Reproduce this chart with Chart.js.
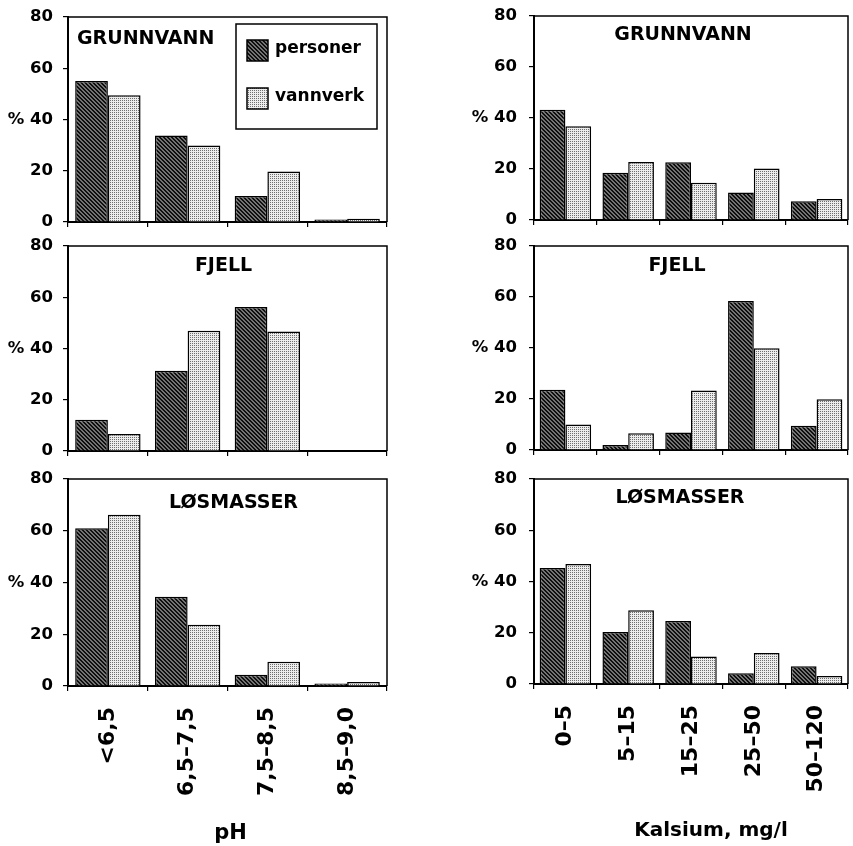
<!DOCTYPE html>
<html><head><meta charset="utf-8">
<script src="https://cdn.jsdelivr.net/npm/chart.js@4.4.0/dist/chart.umd.min.js"></script>
<style>
html,body{margin:0;padding:0;background:#fff;}
#wrap{position:relative;width:853px;height:846px;overflow:hidden;background:#fff;}
#wrap canvas{position:absolute;}
</style></head>
<body><div id="wrap"></div>
<script>
// ---------- DATA ----------
const phCategories = ['<6,5', '6,5–7,5', '7,5–8,5', '8,5–9,0'];
const caCategories = ['0–5', '5–15', '15–25', '25–50', '50–120'];
const seriesLabels = ['personer', 'vannverk'];
const panelTitles = ['GRUNNVANN', 'FJELL', 'LØSMASSER'];
const axisTitles = ['pH', 'Kalsium, mg/l'];
const yTickValues = [0, 20, 40, 60, 80];
const yUnitLabel = '%';

const phGrunnvannPersoner = [55.0, 33.8, 10.1, 1.0];
const phGrunnvannVannverk = [49.5, 29.9, 19.7, 1.3];
const phFjellPersoner     = [12.2, 31.3, 56.2, 0];
const phFjellVannverk     = [6.6, 46.9, 46.6, 0];
const phLosmasserPersoner = [61.0, 34.5, 4.3, 1.0];
const phLosmasserVannverk = [66.2, 23.7, 9.4, 1.5];

const caGrunnvannPersoner = [43.2, 18.5, 22.6, 10.8, 7.4];
const caGrunnvannVannverk = [36.8, 22.7, 14.6, 20.2, 8.2];
const caFjellPersoner     = [23.6, 2.0, 6.9, 58.4, 9.5];
const caFjellVannverk     = [10.0, 6.6, 23.3, 39.9, 19.9];
const caLosmasserPersoner = [45.3, 20.3, 24.6, 4.2, 6.9];
const caLosmasserVannverk = [46.8, 28.8, 10.7, 12.1, 3.1];

// ---------- STYLE ----------
const FONT = "'DejaVu Sans', 'Liberation Sans', sans-serif";
Chart.defaults.font.family = FONT;
Chart.defaults.font.weight = 'bold';
Chart.defaults.color = '#000';

function makePattern(dark) {
  const c = document.createElement('canvas');
  const n = dark ? 4 : 2;
  c.width = n; c.height = n;
  const x = c.getContext('2d');
  const img = x.createImageData(n, n);
  for (let j = 0; j < n; j++) for (let i = 0; i < n; i++) {
    let v;
    if (dark) v = (((i - j) % 4 + 4) % 4) < 2 ? 15 : 115;
    else v = (i === 0 && j === 0) ? 110 : 236;
    const k = (j * n + i) * 4;
    img.data[k] = img.data[k + 1] = img.data[k + 2] = v; img.data[k + 3] = 255;
  }
  x.putImageData(img, 0, 0);
  return x.createPattern(c, 'repeat');
}
const darkPat = makePattern(true);
const lightPat = makePattern(false);

// ---------- PLUGIN: box, panel title, legend, axis title ----------
const decor = {
  id: 'decor',
  afterDraw(chart, args, o) {
    const ctx = chart.ctx, a = chart.chartArea;
    ctx.save();
    ctx.strokeStyle = '#000';
    ctx.lineWidth = 1.5;
    ctx.beginPath();
    ctx.moveTo(a.left, a.top); ctx.lineTo(a.right, a.top); ctx.lineTo(a.right, a.bottom);
    ctx.stroke();
    ctx.fillStyle = '#000';
    ctx.textBaseline = 'alphabetic';
    ctx.font = 'bold 19px ' + FONT;
    if (o.titleAlign === 'left') {
      ctx.textAlign = 'left';
      ctx.fillText(o.title, a.left + o.titleDx, a.top + o.titleDy);
    } else {
      ctx.textAlign = 'center';
      ctx.fillText(o.title, (a.left + a.right) / 2 + o.titleDx, a.top + o.titleDy);
    }
    if (o.legend) {
      const bx = a.right - 151, by = a.top + 7, bw = 141, bh = 105;
      ctx.lineWidth = 1.5;
      ctx.fillStyle = '#fff';
      ctx.fillRect(bx, by, bw, bh);
      ctx.strokeRect(bx, by, bw, bh);
      chart.data.datasets.forEach((ds, i) => {
        const sy = by + 16 + i * 48;
        ctx.fillStyle = ds.backgroundColor;
        ctx.fillRect(bx + 11, sy, 21, 21);
        ctx.strokeStyle = '#000';
        ctx.strokeRect(bx + 11, sy, 21, 21);
        ctx.fillStyle = '#000';
        ctx.font = 'bold 17px ' + FONT;
        ctx.textAlign = 'left';
        ctx.textBaseline = 'middle';
        ctx.fillText(ds.label, bx + 39, sy + 9);
      });
    }
    if (o.axisTitle) {
      ctx.fillStyle = '#000';
      ctx.font = 'bold ' + o.axisSize + 'px ' + FONT;
      ctx.textAlign = 'center';
      ctx.textBaseline = 'alphabetic';
      ctx.fillText(o.axisTitle, (a.left + a.right) / 2 + o.axisDx, a.bottom + o.axisDy);
    }
    ctx.restore();
  }
};

// ---------- PANELS ----------
const panels = [
  { x0: 0,   w: 400, area: {l: 68,  t: 17,  r: 387, b: 222}, labels: phCategories, p: phGrunnvannPersoner, v: phGrunnvannVannverk, title: panelTitles[0], titleAlign: 'left', titleDx: 9, titleDy: 27, legend: true, yPad: 10 },
  { x0: 0,   w: 400, area: {l: 68,  t: 246, r: 387, b: 451}, labels: phCategories, p: phFjellPersoner, v: phFjellVannverk, title: panelTitles[1], titleAlign: 'center', titleDx: -4, titleDy: 25, yPad: 10 },
  { x0: 0,   w: 400, area: {l: 68,  t: 479, r: 387, b: 686}, labels: phCategories, p: phLosmasserPersoner, v: phLosmasserVannverk, title: panelTitles[2], titleAlign: 'center', titleDx: 6, titleDy: 29, bottom: true, axisTitle: axisTitles[0], axisSize: 21, axisDx: 3, axisDy: 153, yPad: 10 },
  { x0: 430, w: 423, area: {l: 534, t: 16,  r: 848, b: 220}, labels: caCategories, p: caGrunnvannPersoner, v: caGrunnvannVannverk, title: panelTitles[0], titleAlign: 'center', titleDx: -8, titleDy: 24, yPad: 12 },
  { x0: 430, w: 423, area: {l: 534, t: 246, r: 848, b: 450}, labels: caCategories, p: caFjellPersoner, v: caFjellVannverk, title: panelTitles[1], titleAlign: 'center', titleDx: -14, titleDy: 25, yPad: 12 },
  { x0: 430, w: 423, area: {l: 534, t: 479, r: 848, b: 684}, labels: caCategories, p: caLosmasserPersoner, v: caLosmasserVannverk, title: panelTitles[2], titleAlign: 'center', titleDx: -11, titleDy: 24, bottom: true, axisTitle: axisTitles[1], axisSize: 20, axisDx: 20, axisDy: 152, yPad: 12 }
];

const wrap = document.getElementById('wrap');
panels.forEach(pn => {
  const A = pn.area;
  const top = A.t - 15;
  const xh = pn.bottom ? (846 - A.b) : 10;
  const h = A.b + xh - top;
  const cv = document.createElement('canvas');
  cv.width = pn.w; cv.height = h;
  cv.style.left = pn.x0 + 'px'; cv.style.top = top + 'px';
  cv.style.width = pn.w + 'px'; cv.style.height = h + 'px';
  wrap.appendChild(cv);
  const yW = A.l - pn.x0;
  new Chart(cv.getContext('2d'), {
    type: 'bar',
    data: {
      labels: pn.labels,
      datasets: [
        { label: seriesLabels[0], data: pn.p, backgroundColor: darkPat, borderColor: '#000', borderWidth: 1.5, categoryPercentage: 0.82, barPercentage: 1.0 },
        { label: seriesLabels[1], data: pn.v, backgroundColor: lightPat, borderColor: '#000', borderWidth: 1.5, categoryPercentage: 0.82, barPercentage: 1.0 }
      ]
    },
    options: {
      responsive: false,
      animation: false,
      devicePixelRatio: 1,
      layout: { padding: { top: 15, right: pn.x0 + pn.w - A.r, left: 0, bottom: 0 } },
      plugins: {
        legend: { display: false },
        tooltip: { enabled: false },
        decor: pn
      },
      scales: {
        x: {
          offset: true,
          grid: { offset: true, drawOnChartArea: false, drawTicks: true, tickLength: 5, color: '#000', lineWidth: 1.2 },
          border: { display: true, color: '#000', width: 2 },
          ticks: pn.bottom ? {
            display: true, autoSkip: false, minRotation: 90, maxRotation: 90, padding: 16,
            font: { size: 22, weight: 'bold' }, color: '#000'
          } : { display: false },
          afterFit: s => { s.height = xh; s.paddingLeft = 0; s.paddingRight = 0; }
        },
        y: {
          min: 0, max: 80,
          afterBuildTicks: s => { s.ticks = yTickValues.map(v => ({ value: v })); },
          grid: { drawOnChartArea: false, drawTicks: true, tickLength: 5, color: '#000', lineWidth: 1.2 },
          border: { display: true, color: '#000', width: 2 },
          ticks: {
            padding: pn.yPad, font: { size: 16.5, weight: 'bold' }, color: '#000',
            callback: v => (v === 40 ? yUnitLabel + ' ' + v : String(v))
          },
          afterFit: s => { s.width = yW; s.paddingTop = 0; s.paddingBottom = 0; }
        }
      }
    },
    plugins: [decor]
  });
});
</script>
</body></html>
